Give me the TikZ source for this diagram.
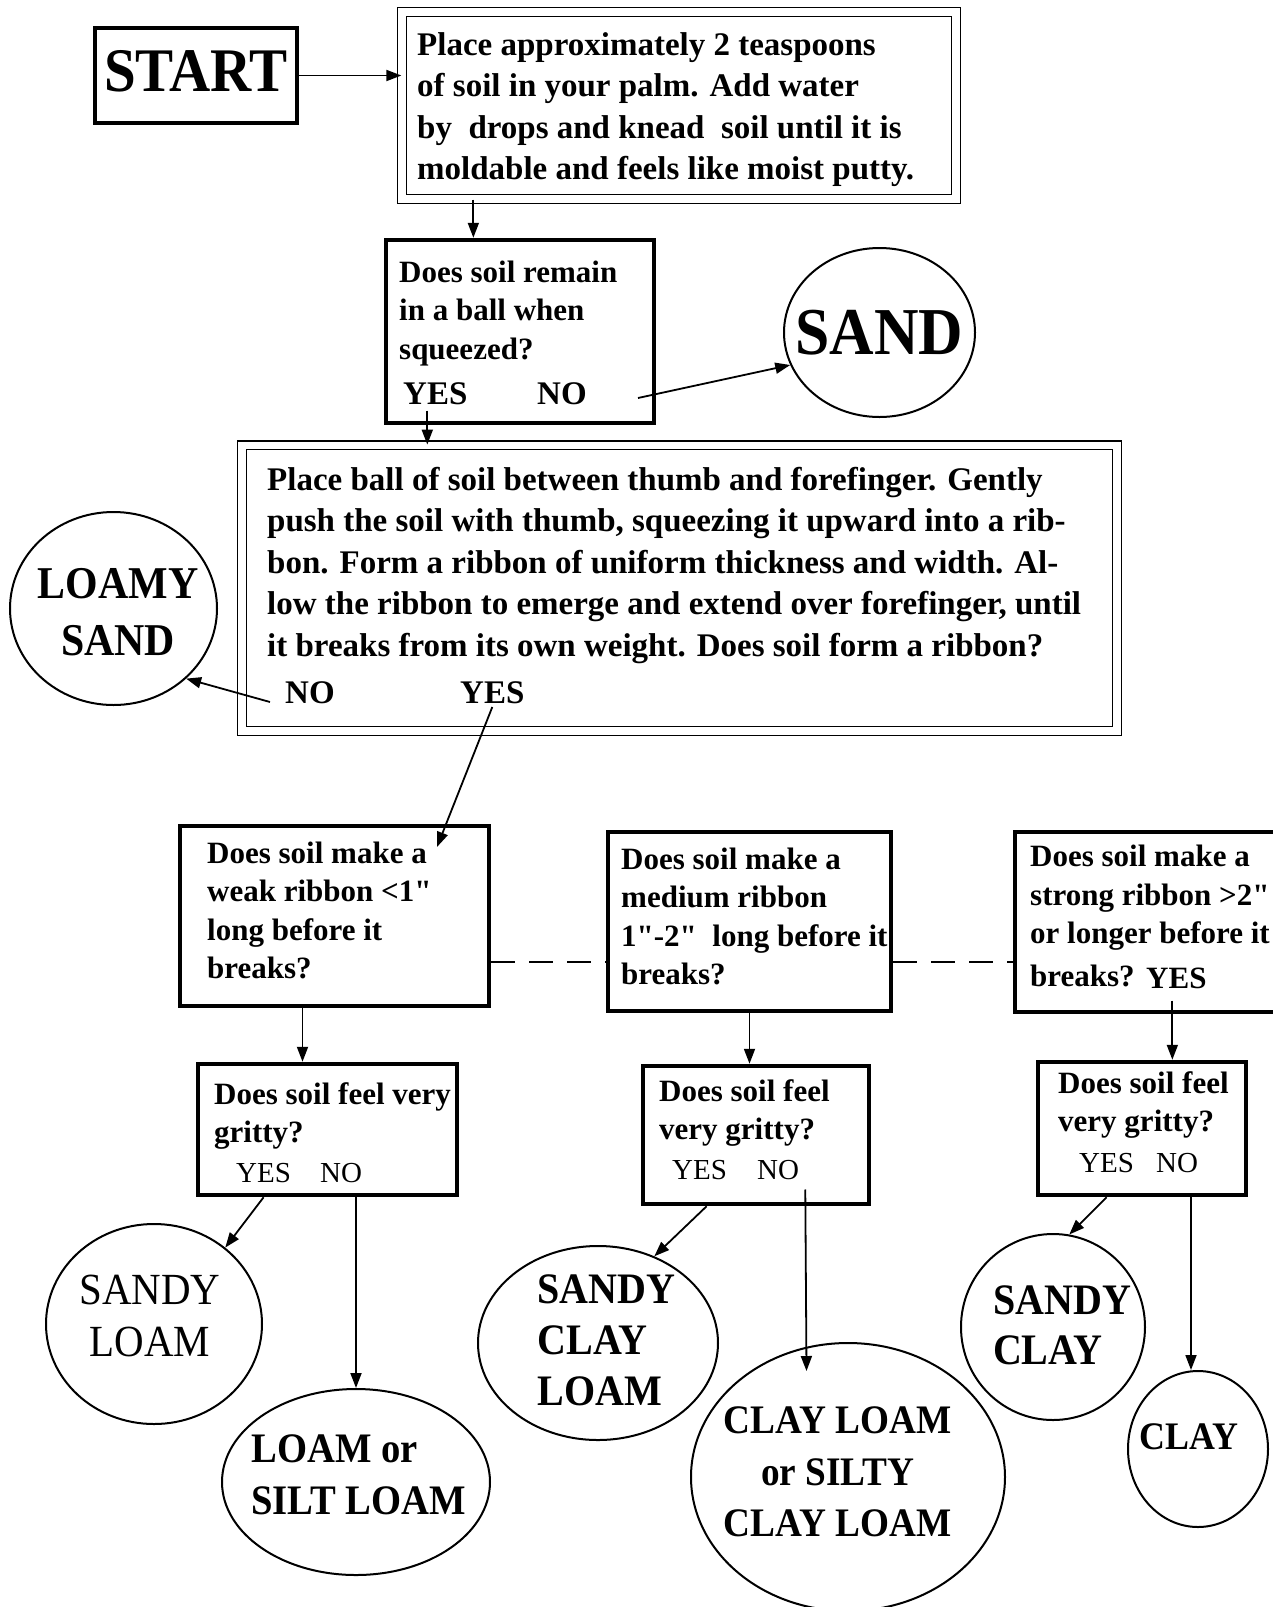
\documentclass[tikz,border=0pt]{standalone}
\usepackage{fontspec}
\setmainfont{Liberation Serif}[Ligatures=TeXOff]
\newfontfamily\capsfont{Liberation Serif}[Ligatures=TeXOff, FakeStretch=0.92]
\usetikzlibrary{shapes.geometric,arrows.meta}
\begin{document}
\begin{tikzpicture}[x=1pt,y=-1pt,
  thickbox/.style={draw, rectangle, line width=4.5pt, inner sep=0pt},
  dblbox/.style={draw, rectangle, double, double distance=7.5pt, line width=1.3pt, inner sep=0pt},
  endell/.style={draw, ellipse, line width=2pt, inner sep=0pt},
  arr/.style={line width=1.8pt, -{Triangle[length=15pt,width=11pt]}},
  link/.style={line width=2pt, dash pattern=on 24pt off 14pt},
  bigtxt/.style={inner sep=0pt, anchor=base west, align=left, font=\fontsize{33}{41.5}\selectfont\bfseries},
  smtxt/.style={inner sep=0pt, anchor=base west, align=left, font=\fontsize{31}{38.5}\selectfont\bfseries},
  yn/.style={inner sep=0pt, anchor=base west, font=\fontsize{33}{40}\selectfont\bfseries},
  ynmd/.style={inner sep=0pt, anchor=base west, font=\fontsize{31}{38}\selectfont\bfseries},
  ynsm/.style={inner sep=0pt, anchor=base west, font=\fontsize{29}{34}\selectfont},
  lbl/.style={inner sep=0pt}
]
\fill[white] (0,0) rectangle (1273,1607);
\useasboundingbox (0,0) rectangle (1273,1607);

% START
\node[thickbox, minimum width=202pt, minimum height=95pt] (start) at (196,75.5) {};
\node[lbl, font=\capsfont\fontsize{62}{64}\selectfont\bfseries] (starttxt) at (196,71) {START};

% preparation box (text anchored at baseline of its last line)
\node[dblbox, minimum width=554pt, minimum height=187pt] (prep) at (679,105.5) {};
\node[bigtxt] (preptxt) at (417,179.5) {Place approximately 2 teaspoons\\of soil in your palm. Add water\\by~ drops and knead~ soil until it is\\moldable and feels like moist putty.};

% ball question
\node[thickbox, minimum width=268pt, minimum height=183pt] (ball) at (520,331.5) {};
\node[smtxt] (balltxt) at (399,359) {Does soil remain\\in a ball when\\squeezed?};
\node[yn] (ballyes) at (403,404) {YES};
\node[yn] (ballno) at (537,404) {NO};
\node[endell, minimum width=191pt, minimum height=169pt] (sand) at (879.5,332.5) {};
\node[lbl, font=\capsfont\fontsize{67}{67}\selectfont\bfseries] (sandtxt) at (879.5,332.5) {SAND};

% ribbon box
\node[dblbox, minimum width=875pt, minimum height=285.5pt] (ribbon) at (679.5,588) {};
\node[bigtxt] (ribbontxt) at (267,656) {Place ball of soil between thumb and forefinger. Gently\\push the soil with thumb, squeezing it upward into a rib-\\bon. Form a ribbon of uniform thickness and width. Al-\\low the ribbon to emerge and extend over forefinger, until\\it breaks from its own weight. Does soil form a ribbon?};
\node[yn] (ribno) at (285,703) {NO};
\node[yn] (ribyes) at (460,703) {YES};
\node[endell, minimum width=207pt, minimum height=193pt] (lsand) at (113.5,608.5) {};
\node[lbl, align=center, font=\capsfont\fontsize{45.5}{57}\selectfont\bfseries] (lsandtxt) at (118,612) {LOAMY\\SAND};

% ribbon strength boxes
\node[thickbox, minimum width=309pt, minimum height=180pt] (weak) at (334.5,916) {};
\node[smtxt] (weaktxt) at (207,978.5) {Does soil make a\\weak ribbon <1"\\long before it\\breaks?};
\node[thickbox, minimum width=283pt, minimum height=179pt] (medium) at (749.5,921.5) {};
\node[smtxt] (mediumtxt) at (621,984.5) {Does soil make a\\medium ribbon\\1"-2"~ long before it\\breaks?};
\node[thickbox, minimum width=265pt, minimum height=180pt] (strong) at (1147.5,922) {};
\node[smtxt] (strongtxt) at (1030,986) {Does soil make a\\strong ribbon >2"\\or longer before it\\[4pt]breaks?};
\node[ynmd] (strongyes) at (1146,988) {YES};

% gritty boxes
\node[thickbox, minimum width=259pt, minimum height=131pt] (g1) at (327.5,1129.5) {};
\node[smtxt] (g1txt) at (214,1142.5) {Does soil feel very\\gritty?};
\node[ynsm] (g1yes) at (236,1182) {YES};
\node[ynsm] (g1no) at (320,1182) {NO};
\node[thickbox, minimum width=226pt, minimum height=138pt] (g2) at (756,1135) {};
\node[smtxt] (g2txt) at (659,1139.5) {Does soil feel\\very gritty?};
\node[ynsm] (g2yes) at (672,1179) {YES};
\node[ynsm] (g2no) at (757,1179) {NO};
\node[thickbox, minimum width=208pt, minimum height=133pt] (g3) at (1142,1128.5) {};
\node[smtxt] (g3txt) at (1058,1131.5) {Does soil feel\\very gritty?};
\node[ynsm] (g3yes) at (1079,1172) {YES};
\node[ynsm] (g3no) at (1156,1172) {NO};

% results
\node[endell, minimum width=216pt, minimum height=200pt] (sl) at (154,1324) {};
\node[lbl, align=center, font=\capsfont\fontsize{44.5}{52}\selectfont] (sltxt) at (150,1316) {SANDY\\LOAM};
\node[endell, minimum width=268pt, minimum height=186pt] (ls) at (356,1482) {};
\node[lbl, align=left, font=\capsfont\fontsize{42}{52}\selectfont\bfseries] (lstxt) at (358.5,1475) {LOAM or\\SILT LOAM};
\node[endell, minimum width=240pt, minimum height=194pt] (scl) at (598,1343) {};
\node[lbl, align=left, font=\capsfont\fontsize{43.5}{51}\selectfont\bfseries] (scltxt) at (606.5,1340) {SANDY\\CLAY\\LOAM};
\node[endell, minimum width=314pt, minimum height=268pt] (clm) at (848,1477) {};
\node[lbl, align=center, font=\capsfont\fontsize{40.5}{51.5}\selectfont\bfseries] (clmtxt) at (837.5,1472) {CLAY LOAM\\or SILTY\\CLAY LOAM};
\node[endell, minimum width=184pt, minimum height=186pt] (sc) at (1053,1327) {};
\node[lbl, align=left, font=\capsfont\fontsize{43.5}{50}\selectfont\bfseries] (sctxt) at (1062,1325) {SANDY\\CLAY};
\node[endell, minimum width=140pt, minimum height=156pt] (clay) at (1198,1449) {};
\node[lbl, font=\capsfont\fontsize{39}{42}\selectfont\bfseries] (claytxt) at (1189,1437) {CLAY};

% connector free ends
\coordinate (nostart) at (638,398);
\coordinate (ribnostart) at (270,702);
\coordinate (weaktip) at (437,847);
\coordinate (clmtip) at (806.5,1371);

% connectors
\draw[arr] (start.east) -- (start.east -| prep.west);
\draw[arr] ([xshift=72pt]prep.south west) -- ([xshift=72pt]prep.south west |- ball.north);
\draw[arr] (nostart) -- (sand.200);
\draw[arr] ([xshift=-8pt,yshift=-6pt]ballyes.south) -- ([xshift=-8pt]ballyes.south |- ribbon.north);
\draw[arr] (ribnostart) -- (lsand.-44);
\draw[arr] ([yshift=-4pt]ribyes.base) -- (weaktip);
\draw[link] ([yshift=-46pt]weak.east) -- ([yshift=-46pt]weak.east -| medium.west);
\draw[link] ([yshift=-40.5pt]medium.east) -- ([yshift=-40.5pt]medium.east -| strong.west);
\draw[arr] ([xshift=-32pt]weak.south) -- ([xshift=-32pt]weak.south |- g1.north);
\draw[arr] (medium.south) -- (medium.south |- g2.north);
\draw[arr] ([xshift=-4pt,yshift=-12pt]strongyes.south) -- ([xshift=-4pt]strongyes.south |- g3.north);
\draw[arr] (g1yes.south |- g1.south) -- (sl.47);
\draw[arr] (ls.north |- g1.south) -- (ls.north);
\draw[arr] ([xshift=7pt]g2yes.south |- g2.south) -- (scl.57);
\draw[arr] ([xshift=6pt,yshift=-10pt]g2no.south east) -- (clmtip);
\draw[arr] (g3yes.south |- g3.south) -- (sc.80);
\draw[arr] ([xshift=-7pt]clay.north |- g3.south) -- ([xshift=-7pt]clay.north);
\end{tikzpicture}
\end{document}
